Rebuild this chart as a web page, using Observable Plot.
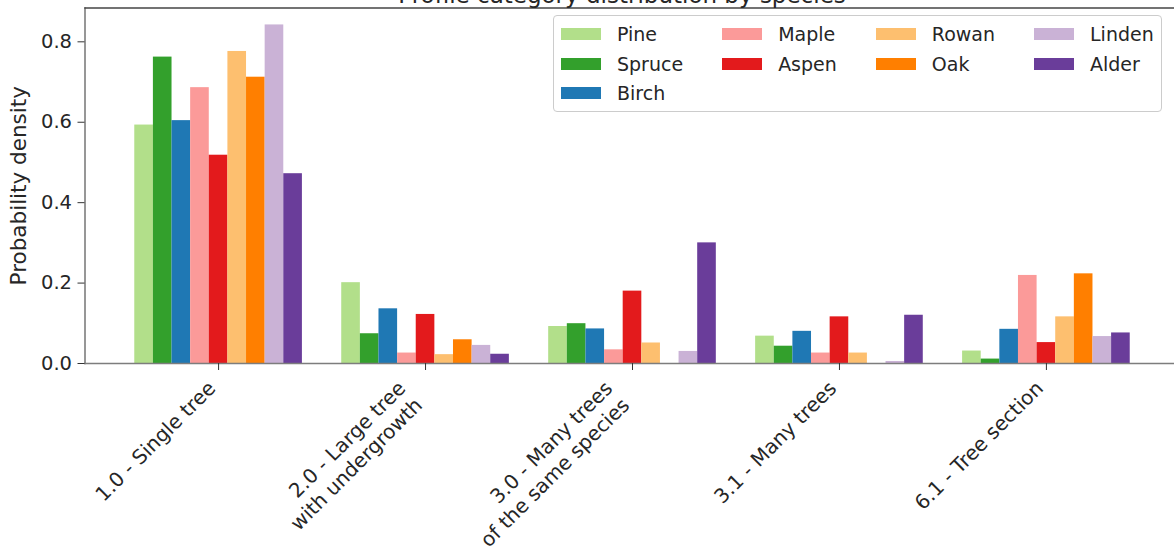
<!DOCTYPE html>
<html><head><meta charset="utf-8">
<script src="https://cdn.jsdelivr.net/npm/d3@7"></script>
<script src="https://cdn.jsdelivr.net/npm/@observablehq/plot@0.6"></script>
<style>
html,body{margin:0;padding:0;background:#fff;overflow:hidden;}
#wrap{position:relative;width:1174px;height:555px;font-family:"DejaVu Sans",sans-serif;color:#262626;overflow:hidden;}
#title{position:absolute;left:74.5px;width:1095px;top:-16px;text-align:center;font-size:23px;line-height:23px;white-space:nowrap;z-index:2;}
#legend{position:absolute;left:553px;top:15px;border:1px solid #cccccc;border-radius:4px;background:rgba(255,255,255,0.8);padding:8px 7px;display:flex;gap:39px;z-index:3;}
.col{display:flex;flex-direction:column;gap:9.5px;}
.item{display:flex;align-items:center;height:20px;font-size:19px;line-height:20px;white-space:nowrap;}
.sw{width:40px;height:12px;margin-right:16px;flex:none;}
</style></head><body>
<div id="wrap"><div id="title">Profile category distribution by species</div><div id="chart"></div><div id="legend"></div></div>
<script>
const categories = ["1.0 - Single tree", "2.0 - Large tree\nwith undergrowth", "3.0 - Many trees\nof the same species", "3.1 - Many trees", "6.1 - Tree section"];
const species = ["Pine", "Spruce", "Birch", "Maple", "Aspen", "Rowan", "Oak", "Linden", "Alder"];
const colors = ["#b2df8a", "#33a02c", "#1f78b4", "#fb9a99", "#e31a1c", "#fdbf6f", "#ff7f00", "#cab2d6", "#6a3d9a"];
const pine   = [0.593, 0.201, 0.092, 0.068, 0.031];
const spruce = [0.762, 0.074, 0.099, 0.043, 0.011];
const birch  = [0.604, 0.136, 0.086, 0.080, 0.085];
const maple  = [0.686, 0.026, 0.034, 0.026, 0.219];
const aspen  = [0.518, 0.122, 0.180, 0.116, 0.052];
const rowan  = [0.776, 0.022, 0.051, 0.026, 0.116];
const oak    = [0.712, 0.059, 0.000, 0.000, 0.223];
const linden = [0.842, 0.045, 0.030, 0.005, 0.067];
const alder  = [0.472, 0.023, 0.300, 0.120, 0.076];
const yTicks = [0.0, 0.2, 0.4, 0.6, 0.8];
const yLabel = "Probability density";

const values = [pine, spruce, birch, maple, aspen, rowan, oak, linden, alder];
const barWidth = 0.09;
const mid = (species.length - 1) / 2;
const rows = [];
species.forEach((s, j) => values[j].forEach((v, i) => {
  const c = i + (j - mid) * barWidth;
  rows.push({category: categories[i], species: s, value: v, x1: c - barWidth / 2, x2: c + barWidth / 2});
}));
const lo = d3.min(rows, d => d.x1), hi = d3.max(rows, d => d.x2);
const xm = (hi - lo) * 0.05;
const ymax = d3.max(rows, d => d.value) * 1.05;
const labels = categories.map((c, i) => ({label: c, pos: i, lines: c.split("\n").length}));

const tickLabel = (lines, dx) => Plot.text(labels.filter(d => d.lines === lines), {
  x: "pos", text: "label", frameAnchor: "bottom", rotate: -45, textAnchor: "end", lineAnchor: "top",
  lineHeight: 1.2, dx, dy: 14, fontSize: 20, fill: "#262626"
});

const chart = Plot.plot({
  width: 1174, height: 555,
  marginLeft: 84.5, marginRight: -5.5, marginTop: 7.5, marginBottom: 192,
  style: {fontFamily: "DejaVu Sans", fontSize: "19px", color: "#262626", background: "white", overflow: "visible"},
  x: {domain: [lo - xm, hi + xm]},
  y: {domain: [0, ymax]},
  color: {domain: species, range: colors},
  marks: [
    Plot.rectY(rows, {x1: "x1", x2: "x2", y: "value", fill: "species"}),
    Plot.frame({anchor: "left", stroke: "#7d7d7d", strokeWidth: 1.6}),
    Plot.frame({anchor: "bottom", stroke: "#7d7d7d", strokeWidth: 1.6}),
    Plot.frame({anchor: "top", stroke: "#444", strokeWidth: 1.4}),
    Plot.axisY({ticks: yTicks, tickFormat: d3.format(".1f"), tickSize: 7, tickPadding: 6, fontSize: 19.5, label: null, stroke: "#333"}),
    Plot.axisY({ticks: [], label: yLabel, labelAnchor: "center", labelArrow: "none", labelOffset: 74, fontSize: 21.5}),
    Plot.axisX({ticks: d3.range(categories.length), tickSize: 7, tickFormat: () => "", label: null, stroke: "#333"}),
    tickLabel(1, -14),
    tickLabel(2, -31)
  ]
});
document.getElementById("chart").appendChild(chart);

// legend, column-major like matplotlib (ncol = 4)
const ncol = 4;
const base = Math.floor(species.length / ncol), extra = species.length % ncol;
const leg = document.getElementById("legend");
let k = 0;
for (let c = 0; c < ncol; c++) {
  const n = base + (c < extra ? 1 : 0);
  const col = document.createElement("div"); col.className = "col";
  for (let r = 0; r < n; r++, k++) {
    const it = document.createElement("div"); it.className = "item";
    const sw = document.createElement("span"); sw.className = "sw"; sw.style.background = colors[k];
    it.appendChild(sw); it.appendChild(document.createTextNode(species[k]));
    col.appendChild(it);
  }
  leg.appendChild(col);
}
</script></body></html>
